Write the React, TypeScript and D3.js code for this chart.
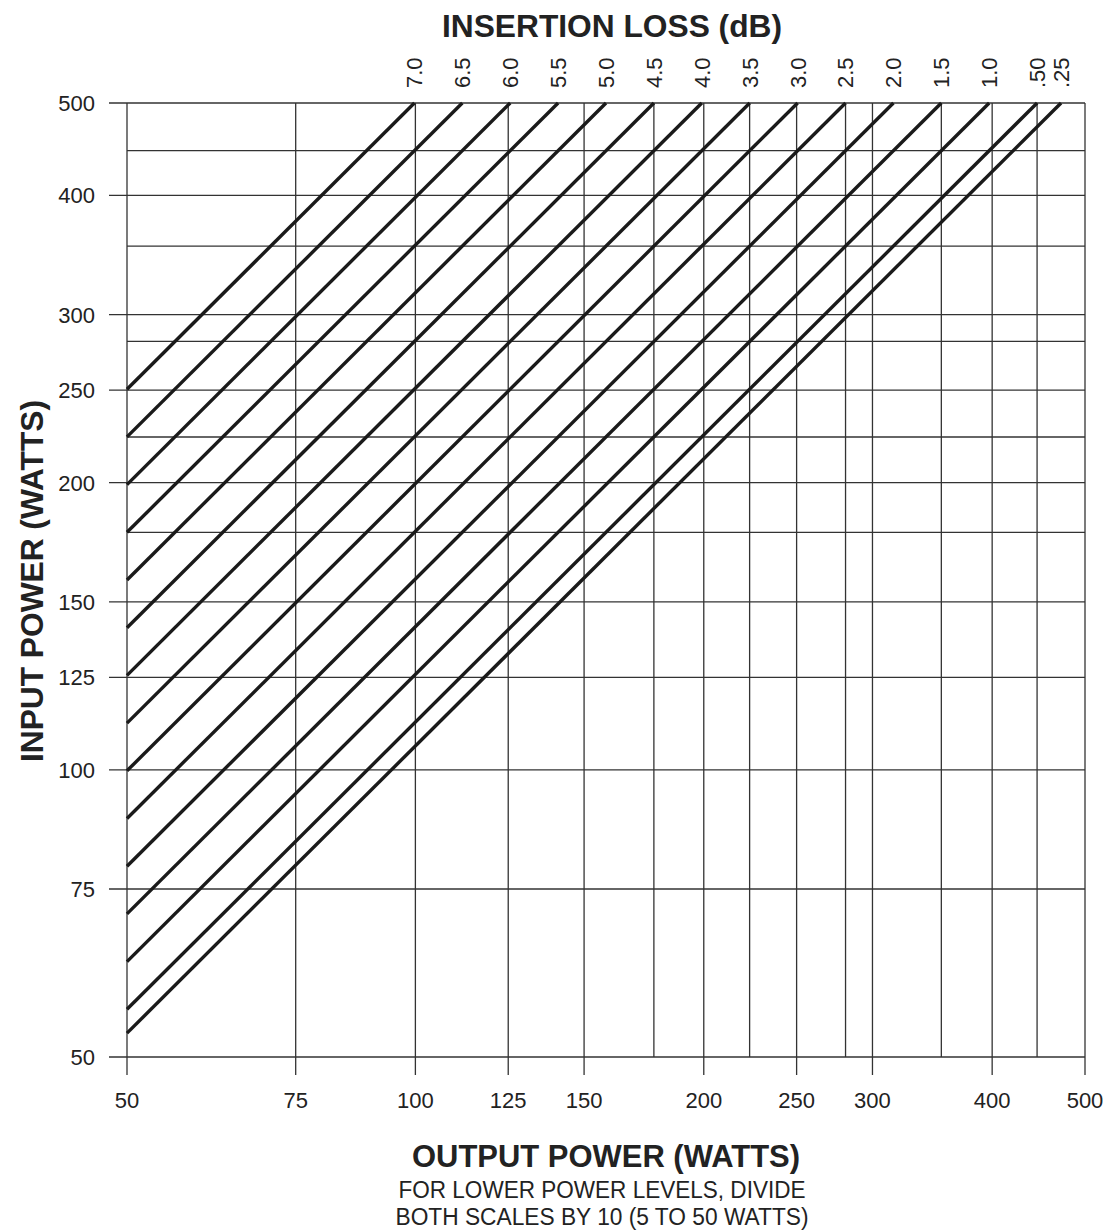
import * as d3 from 'd3';

// insertion loss of each diagonal line, in dB, and the label printed above it
const lossValues = [7.0, 6.5, 6.0, 5.5, 5.0, 4.5, 4.0, 3.5, 3.0, 2.5, 2.0, 1.5, 1.0, 0.5, 0.25];
const lossLabels = ['7.0', '6.5', '6.0', '5.5', '5.0', '4.5', '4.0', '3.5', '3.0', '2.5', '2.0', '1.5', '1.0', '.50', '.25'];

// labelled power values (watts), same on both axes
const powerTicks = [50, 75, 100, 125, 150, 200, 250, 300, 400, 500];
// extra unlabelled grid values (watts)
const extraGrid = [177.4, 223.3, 281.2, 354, 445.6];

const width = 1107;
const height = 1230;
const margin = { top: 103, right: 22, bottom: 173, left: 127 };
const font = '"Liberation Sans", Arial, Helvetica, sans-serif';
const ink = '#222';

export default function App() {
    const x = d3.scaleLog()
        .domain([50, 500])
        .range([margin.left, width - margin.right]);

    const y = d3.scaleLog()
        .domain([50, 500])
        .range([height - margin.bottom, margin.top]);

    const x0 = x(50);
    const x1 = x(500);
    const y0 = y(50);
    const y1 = y(500);
    const tick = 18;

    // input = output * 10^(loss/10); each line runs from output 50 W to input 500 W
    const lossLines = lossValues.map((loss, i) => {
        const gain = Math.pow(10, loss / 10);
        return {
            label: lossLabels[i],
            pts: [[50, 50 * gain], [500 / gain, 500]] as [number, number][],
        };
    });

    const line = d3.line<[number, number]>()
        .x(d => x(d[0]))
        .y(d => y(d[1]));

    return (
        <svg width={width} height={height}
            style={{ position: 'absolute', left: 0, top: 0, background: '#fff' }}
            fontFamily={font}>
            {/* grid */}
            <g stroke="#333" strokeWidth={1.3} fill="none">
                {extraGrid.map(v => (
                    <line key={'vx' + v} x1={x(v)} x2={x(v)} y1={y1} y2={y0} />
                ))}
                {extraGrid.map(v => (
                    <line key={'hx' + v} x1={x0} x2={x1} y1={y(v)} y2={y(v)} />
                ))}
                {powerTicks.map(v => (
                    <line key={'v' + v} x1={x(v)} x2={x(v)} y1={y1} y2={y0 + tick} />
                ))}
                {powerTicks.map(v => (
                    <line key={'h' + v} x1={x0 - tick} x2={x1} y1={y(v)} y2={y(v)} />
                ))}
            </g>

            {/* loss lines */}
            <g stroke="#1a1a1a" strokeWidth={3.4} fill="none">
                {lossLines.map(l => (
                    <path key={l.label} d={line(l.pts) || ''} />
                ))}
            </g>

            {/* loss labels */}
            <g fill={ink} fontSize={22}>
                {lossLines.map(l => {
                    const px = x(l.pts[1][0]);
                    return (
                        <text key={l.label} transform={`translate(${px},88) rotate(-90)`}
                            dy="0.36em" textAnchor="start">{l.label}</text>
                    );
                })}
            </g>

            {/* axis tick labels */}
            <g fill={ink} fontSize={22}>
                {powerTicks.map(v => (
                    <text key={'yl' + v} x={95} y={y(v)} dy="0.36em" textAnchor="end">{v}</text>
                ))}
                {powerTicks.map(v => (
                    <text key={'xl' + v} x={x(v)} y={1108} textAnchor="middle">{v}</text>
                ))}
            </g>

            {/* titles */}
            <g fill={ink}>
                <text x={612} y={37} fontSize={32} fontWeight="bold" textAnchor="middle"
                    textLength={340} lengthAdjust="spacingAndGlyphs">INSERTION LOSS (dB)</text>
                <text transform="translate(43,581) rotate(-90)" fontSize={31} fontWeight="bold"
                    textAnchor="middle" textLength={362} lengthAdjust="spacingAndGlyphs">INPUT POWER (WATTS)</text>
                <text x={606} y={1167} fontSize={31} fontWeight="bold" textAnchor="middle"
                    textLength={388} lengthAdjust="spacingAndGlyphs">OUTPUT POWER (WATTS)</text>
                <text x={602} y={1198} fontSize={23} textAnchor="middle"
                    textLength={407} lengthAdjust="spacingAndGlyphs">FOR LOWER POWER LEVELS, DIVIDE</text>
                <text x={602} y={1225} fontSize={23} textAnchor="middle"
                    textLength={413} lengthAdjust="spacingAndGlyphs">BOTH SCALES BY 10 (5 TO 50 WATTS)</text>
            </g>
        </svg>
    );
}
